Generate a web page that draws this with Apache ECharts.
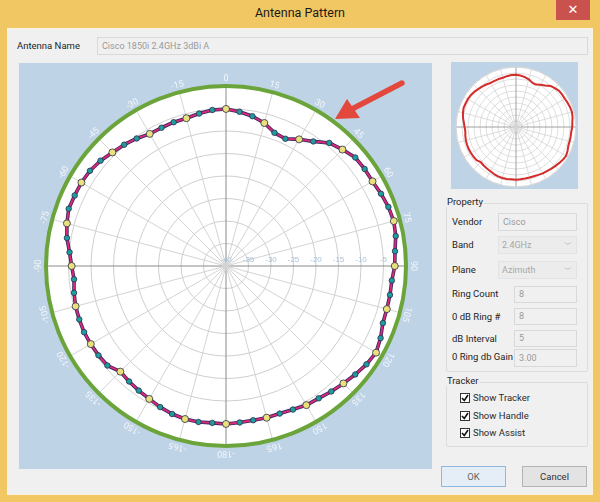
<!DOCTYPE html>
<html><head><meta charset="utf-8">
<script src="https://cdn.jsdelivr.net/npm/echarts@6/dist/echarts.min.js"></script>
<style>
html,body{margin:0;padding:0;}
body{width:600px;height:502px;position:relative;overflow:hidden;background:#f1c764;font-family:Roboto,"Noto Sans",sans-serif;color:#1e1e1e;}
.a{position:absolute;box-sizing:border-box;}
#body{left:7px;top:28px;width:586px;height:467px;background:#f0f0f0;border:1px solid #fbf3df;}
#title{left:0;top:5px;width:600px;text-align:center;font-size:12.5px;color:#1a1a1a;}
#close{left:556px;top:0;width:34px;height:20px;background:#c9524e;color:#fff;font-size:13px;line-height:19px;text-align:center;font-family:"DejaVu Sans",sans-serif;}
.lbl{font-size:9.5px;white-space:nowrap;}
.fld{border:1px solid #d9d9d9;background:#f0f0f0;color:#9a9a9a;font-size:9px;padding-left:4px;white-space:nowrap;}
.combo{border:1px solid #e3e3e3;background:#ececec;color:#a8a8a8;font-size:9px;padding-left:3px;}
.chev{position:absolute;right:4px;top:0;color:#9a9a9a;font-size:8px;}
.grp{border:1px solid #dcdcdc;border-radius:2px;}
.leg{background:#f0f0f0;font-size:9.5px;padding:0 1px;}
.cb{width:10px;height:10px;border:1px solid #333;background:#fff;}
.btn{font-size:9.5px;text-align:center;line-height:19px;}
#chart{left:0;top:0;width:600px;height:502px;z-index:2;}
#arrow{left:0;top:0;width:600px;height:502px;z-index:3;pointer-events:none;}
</style></head>
<body>
<div class="a" id="body"></div>
<div class="a" id="title">Antenna Pattern</div>
<div class="a" id="close">✕</div>

<div class="a lbl" style="left:17px;top:40px;">Antenna Name</div>
<div class="a fld" style="left:97px;top:37px;width:491px;height:18px;line-height:16px;">Cisco 1850i 2.4GHz 3dBi A</div>

<div class="a" style="left:19px;top:63px;width:413px;height:406px;background:#bfd3e7;"></div>
<div class="a" style="left:451px;top:62px;width:127px;height:127px;background:#bfd3e7;"></div>

<div class="a grp" style="left:446px;top:203px;width:142px;height:169px;"></div>
<div class="a leg" style="left:446px;top:196px;">Property</div>
<div class="a lbl" style="left:452px;top:216px;">Vendor</div>
<div class="a fld" style="left:498px;top:213px;width:79px;height:18px;line-height:16px;">Cisco</div>
<div class="a lbl" style="left:452px;top:239px;">Band</div>
<div class="a combo" style="left:498px;top:236px;width:79px;height:18px;line-height:16px;">2.4GHz<span class="chev">﹀</span></div>
<div class="a lbl" style="left:452px;top:264px;">Plane</div>
<div class="a combo" style="left:498px;top:261px;width:79px;height:18px;line-height:16px;">Azimuth<span class="chev">﹀</span></div>
<div class="a lbl" style="left:452px;top:288px;">Ring Count</div>
<div class="a fld" style="left:514px;top:286px;width:63px;height:17px;line-height:15px;">8</div>
<div class="a lbl" style="left:452px;top:311px;">0 dB Ring #</div>
<div class="a fld" style="left:514px;top:308px;width:63px;height:17px;line-height:15px;">8</div>
<div class="a lbl" style="left:452px;top:333px;">dB Interval</div>
<div class="a fld" style="left:514px;top:330px;width:63px;height:17px;line-height:15px;">5</div>
<div class="a lbl" style="left:452px;top:351px;">0 Ring db Gain</div>
<div class="a fld" style="left:514px;top:349px;width:63px;height:18px;line-height:16px;">3.00</div>

<div class="a grp" style="left:446px;top:382px;width:142px;height:65px;"></div>
<div class="a leg" style="left:446px;top:375px;">Tracker</div>
<div class="a cb" style="left:460px;top:393px;"><svg width="8" height="8" style="position:absolute;left:0;top:0"><path d="M1 4 L3.3 6.5 L7 1" stroke="#111" stroke-width="1.6" fill="none"/></svg></div>
<div class="a lbl" style="left:473px;top:392px;color:#2a2a2a">Show Tracker</div>
<div class="a cb" style="left:460px;top:411px;"><svg width="8" height="8" style="position:absolute;left:0;top:0"><path d="M1 4 L3.3 6.5 L7 1" stroke="#111" stroke-width="1.6" fill="none"/></svg></div>
<div class="a lbl" style="left:473px;top:410px;color:#2a2a2a">Show Handle</div>
<div class="a cb" style="left:460px;top:428px;"><svg width="8" height="8" style="position:absolute;left:0;top:0"><path d="M1 4 L3.3 6.5 L7 1" stroke="#111" stroke-width="1.6" fill="none"/></svg></div>
<div class="a lbl" style="left:473px;top:427px;color:#2a2a2a">Show Assist</div>

<div class="a btn" style="left:441px;top:466px;width:65px;height:21px;border:1px solid #8fb8e0;background:#e5eef7;color:#666;">OK</div>
<div class="a btn" style="left:522px;top:466px;width:65px;height:21px;border:1px solid #b4b4b4;background:#e3e3e3;color:#333;">Cancel</div>

<div class="a" id="chart"></div>
<svg class="a" id="arrow" viewBox="0 0 600 502">
  <line x1="402" y1="83" x2="352" y2="109" stroke="#e2483b" stroke-width="5.5" stroke-linecap="round"/>
  <polygon points="335,119 347,99 360,118" fill="#e2483b"/>
</svg>

<script>
// Pattern sample angles (degrees, clockwise from top) and gain in dB
const patternAngles = [0,5,10,15,20,25,30,35,40,45,50,55,60,65,70,75,80,85,
  90,95,100,105,110,115,120,125,130,135,140,145,150,155,160,165,170,175,
  180,185,190,195,200,205,210,215,220,225,230,235,240,245,250,255,260,265,
  270,275,280,285,290,295,300,305,310,315,320,325,330,335,340,345,350,355];
const gainDb = [-5.1,-5.6,-6.2,-7.1,-8.5,-8.8,-7.5,-6.2,-4.3,-3.4,-2.5,-2.4,-2.4,-2.0,-1.6,-1.4,-1.7,-2.3,
  -2.5,-3.0,-3.0,-3.0,-2.9,-2.1,-1.5,-1.9,-2.5,-3.1,-3.6,-4.1,-4.3,-4.8,-5.1,-5.1,-5.2,-5.1,
  -4.9,-5.0,-4.8,-4.8,-5.0,-5.4,-5.9,-6.2,-6.5,-6.8,-5.6,-5.4,-5.3,-5.2,-5.3,-5.4,-5.7,-6.1,
  -5.7,-5.1,-4.1,-3.4,-2.8,-2.9,-2.9,-3.1,-3.6,-4.3,-4.8,-5.4,-6.1,-6.1,-6.0,-6.0,-5.6,-5.2];
const angleTickValues = [-180,-165,-150,-135,-120,-105,-90,-75,-60,-45,-30,-15,0,15,30,45,60,75,90,105,120,135,150,165];
const angleTickLabels = ['-180','-165','-150','-135','-120','-105','-90','-75','-60','-45','-30','-15','0','15','30','45','60','75','90','105','120','135','150','165'];
const ringValues = [-40,-35,-30,-25,-20,-15,-10,-5,0];
const ringLabels = ['-40','-35','-30','-25','-20','-15','-10','-5',''];

// axis runs 90..450 starting at east, clockwise
function toAxis(a){ a = ((a % 360) + 360) % 360; return a < 90 ? a + 360 : a; }

const order = [];
const start = patternAngles.indexOf(90);
for (let i = 0; i < patternAngles.length; i++) order.push((start + i) % patternAngles.length);

const lineData = order.map(i => [gainDb[i], toAxis(patternAngles[i])]);
lineData.push([gainDb[start], 450]);

const markerData = order.map(i => {
  const major = patternAngles[i] % 15 === 0;
  return {
    value: [gainDb[i], toAxis(patternAngles[i])],
    symbolSize: major ? 7 : 5.5,
    itemStyle: { color: major ? '#e9e27c' : '#1f9c9f', borderColor: '#2d2d4a', borderWidth: 0.8 }
  };
});
markerData.push({ value: [gainDb[start], 450], symbol: 'none' });

const labelData = angleTickValues.map((v, k) => ({
  value: [1, toAxis(v)],
  label: { formatter: angleTickLabels[k], rotate: -v }
}));

const spokeColors = ['#8a8a8a','#d4d4d4','#d4d4d4','#d4d4d4','#d4d4d4','#d4d4d4'];

const chart = echarts.init(document.getElementById('chart'), null, { renderer: 'canvas' });
chart.setOption({
  animation: false,
  polar: [
    { center: [226, 266], radius: 180 },
    { center: [226, 266], radius: 187 },
    { center: [516, 127], radius: 60 },
    { center: [226, 266], radius: 180 },
    { center: [516, 127], radius: 60 }
  ],
  angleAxis: [
    { polarIndex: 0, type: 'value', min: 90, max: 450, interval: 15, startAngle: 0, clockwise: true,
      axisLine: { lineStyle: { color: '#6ba43a', width: 4 } },
      axisTick: { show: false }, axisLabel: { show: false },
      splitLine: { show: true, lineStyle: { color: spokeColors, width: 1 } }, z: 2 },
    { polarIndex: 1, type: 'value', min: 90, max: 450, startAngle: 0, clockwise: true, show: false },
    { polarIndex: 2, type: 'value', min: 90, max: 450, interval: 15, startAngle: 0, clockwise: true,
      axisLine: { lineStyle: { color: '#d8d8d8', width: 1 } },
      axisTick: { show: false }, axisLabel: { show: false },
      splitLine: { show: true, lineStyle: { color: spokeColors, width: 0.8 } }, z: 2 },
    // background disks (white)
    { polarIndex: 3, type: 'value', min: 0, max: 360, interval: 90, startAngle: 0,
      axisLine: { show: false }, axisTick: { show: false }, axisLabel: { show: false }, splitLine: { show: false },
      splitArea: { show: true, areaStyle: { color: ['#ffffff'] } }, z: 0 },
    { polarIndex: 4, type: 'value', min: 0, max: 360, interval: 90, startAngle: 0,
      axisLine: { show: false }, axisTick: { show: false }, axisLabel: { show: false }, splitLine: { show: false },
      splitArea: { show: true, areaStyle: { color: ['#ffffff'] } }, z: 0 }
  ],
  radiusAxis: [
    { polarIndex: 0, type: 'value', min: ringValues[0], max: ringValues[ringValues.length - 1], interval: 5,
      axisLine: { show: false }, axisTick: { show: false },
      axisLabel: { show: true, color: '#a9bfd6', fontSize: 8, inside: true, margin: 2,
        formatter: v => ringLabels[ringValues.indexOf(v)] || '' },
      splitLine: { show: true, lineStyle: { color: '#cfcfcf', width: 1 } }, z: 2 },
    { polarIndex: 1, type: 'value', min: 0, max: 1, show: false },
    { polarIndex: 2, type: 'value', min: -40, max: 0, interval: 4,
      axisLine: { show: false }, axisTick: { show: false }, axisLabel: { show: false },
      splitLine: { show: true, lineStyle: { color: '#d6d6d6', width: 0.8 } }, z: 2 },
    { polarIndex: 3, type: 'value', min: 0, max: 1, show: false },
    { polarIndex: 4, type: 'value', min: 0, max: 1, show: false }
  ],
  series: [
    { type: 'line', coordinateSystem: 'polar', polarIndex: 0, data: lineData, symbol: 'none',
      lineStyle: { color: '#3a2868', width: 3.6 }, z: 3 },
    { type: 'line', coordinateSystem: 'polar', polarIndex: 0, data: markerData, symbol: 'circle',
      lineStyle: { color: '#dc2a72', width: 1.9 }, z: 4 },
    { type: 'scatter', coordinateSystem: 'polar', polarIndex: 1, data: labelData, symbolSize: 0,
      label: { show: true, position: 'inside', color: '#ffffff', fontSize: 9, fontFamily: 'Roboto' }, z: 5 },
    { type: 'line', coordinateSystem: 'polar', polarIndex: 2, data: lineData, symbol: 'none',
      lineStyle: { color: '#d42b2b', width: 2 }, z: 3 }
  ]
});
</script>
</body></html>
